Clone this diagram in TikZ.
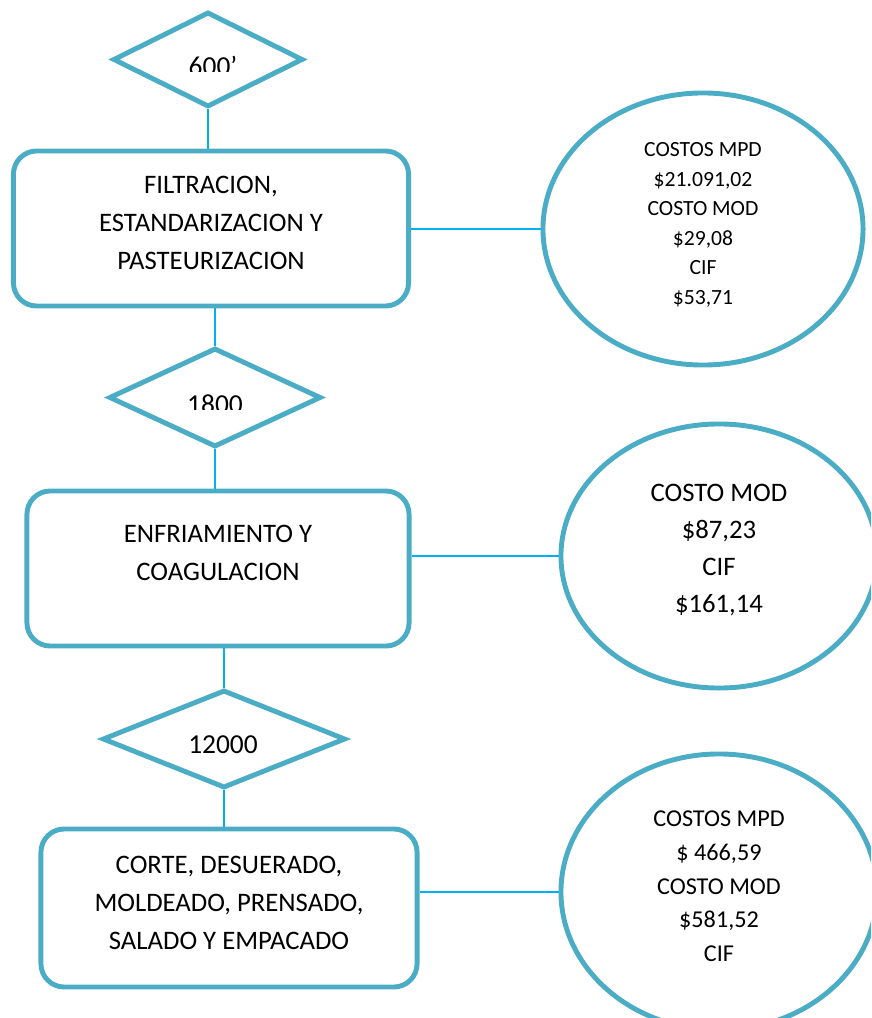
\documentclass[tikz,border=0pt]{standalone}
\usepackage{fontspec}
\setmainfont{Carlito}
\usepackage{xcolor}
\usepackage{tikz}
\usetikzlibrary{shapes.geometric}
\definecolor{borde}{HTML}{4BACC6}
\definecolor{linea}{HTML}{00B0F0}

\begin{document}
\begin{tikzpicture}[x=0.025cm, y=-0.025cm,
	caja/.style = {draw=borde, line width=3.5pt, rounded corners=0.58cm, align=center, inner sep=0pt,
		font=\fontsize{19}{27}\selectfont},
	rombo/.style = {draw=borde, line width=3.5pt, diamond, shape aspect=2, inner sep=0pt},
	cifra/.style = {font=\fontsize{19.5}{23}\selectfont, inner sep=0pt},
	costo/.style = {draw=borde, line width=3.5pt, ellipse, align=center, inner sep=0pt},
	union/.style = {draw=linea, line width=1.3pt}]

\clip (0,0) rectangle (871,1018);

% procesos
\node[caja, minimum width=9.875cm, minimum height=3.875cm, text depth=8pt] (filtracion) at (211,228.5)
	{FILTRACION,\\ESTANDARIZACION Y\\PASTEURIZACION};
\node[caja, minimum width=9.55cm, minimum height=3.875cm, text depth=22pt] (enfriamiento) at (218,568.5)
	{ENFRIAMIENTO Y\\COAGULACION};
\node[caja, minimum width=9.4cm, minimum height=3.95cm, text depth=8pt] (corte) at (229,908)
	{CORTE, DESUERADO,\\MOLDEADO, PRENSADO,\\SALADO Y EMPACADO};

% cantidades
\node[rombo, minimum width=4.75cm, minimum height=2.375cm] (d600) at (208,59.5) {};
\node[rombo, minimum width=5.3cm, minimum height=2.475cm] (d1800) at (215,397.5) {};
\node[rombo, minimum width=6.075cm, minimum height=2.45cm] (d12000) at (224,739) {};
\begin{scope}
	\clip (100,40) rectangle (320,72);
	\node[cifra] (t600) at (213,66) {600’};
\end{scope}
\begin{scope}
	\clip (100,380) rectangle (320,409);
	\node[cifra] (t1800) at (215,404) {1800};
\end{scope}
\node[cifra] (t12000) at (223,745) {12000};

% costos
\node[costo, minimum width=8cm, minimum height=6.8cm, text depth=8pt,
	font=\fontsize{15.4}{21}\selectfont] (costo1) at (703,229)
	{COSTOS MPD\\\$21.091,02\\COSTO MOD\\\$29,08\\CIF\\\$53,71};
\node[costo, minimum width=7.9cm, minimum height=6.6cm, text depth=11pt,
	font=\fontsize{19}{26.5}\selectfont] (costo2) at (719,556)
	{COSTO MOD\\\$87,23\\CIF\\\$161,14};
\node[costo, minimum width=7.9cm, minimum height=6.9cm, text depth=8pt,
	font=\fontsize{17.2}{24}\selectfont] (costo3) at (719,892)
	{COSTOS MPD\\\$ 466,59\\COSTO MOD\\\$581,52\\CIF};

% uniones
\draw[union] (d600.south) -- (d600.south |- filtracion.north);
\draw[union] (d1800.north |- filtracion.south) -- (d1800.north);
\draw[union] (d1800.south) -- (d1800.south |- enfriamiento.north);
\draw[union] (d12000.north |- enfriamiento.south) -- (d12000.north);
\draw[union] (d12000.south) -- (d12000.south |- corte.north);
\draw[union] (filtracion.east |- costo1.west) -- (costo1.west);
\draw[union] (enfriamiento.east |- costo2.west) -- (costo2.west);
\draw[union] (corte.east |- costo3.west) -- (costo3.west);
\end{tikzpicture}
\end{document}
